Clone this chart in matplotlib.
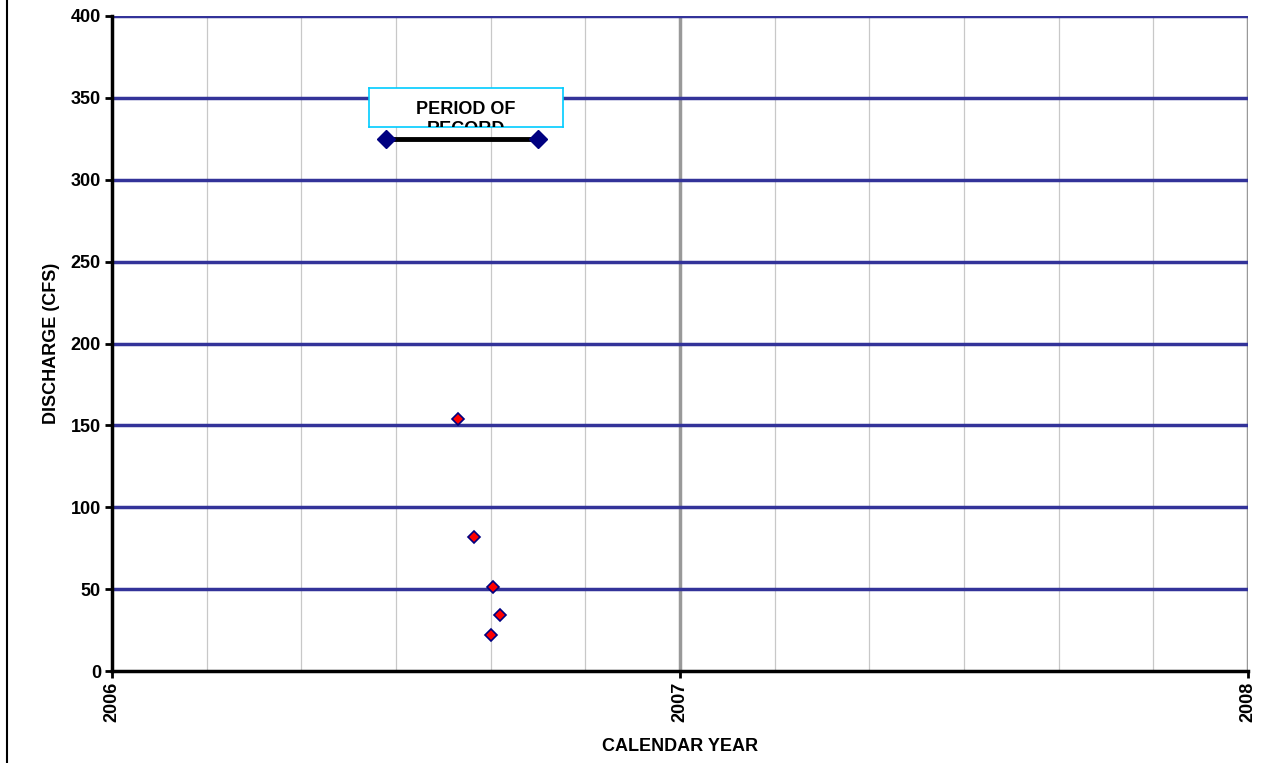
import matplotlib
matplotlib.use("Agg")
import matplotlib.pyplot as plt
import numpy as np

# Data (decimal years)
obs_year = [2006.610, 2006.638, 2006.670, 2006.683, 2006.667]
obs_cfs = [154, 82, 51, 34, 22]
por_year = [2006.483, 2006.750]
por_cfs = [325, 325]
year_ticks = [2006, 2007, 2008]
y_ticks = [0, 50, 100, 150, 200, 250, 300, 350, 400]

plt.rcParams['font.family'] = ['Liberation Sans', 'DejaVu Sans']
FS = 13
fig = plt.figure(figsize=(12.61, 7.63), dpi=100)
ax = fig.add_axes([112/1261, 1-671/763, (1248-112)/1261, (671-16)/763])

ax.set_xlim(2006, 2008)
ax.set_ylim(0, 400)

# minor vertical gridlines every 2 months
for m in np.arange(2006, 2008.0001, 1/6):
    if abs(m - round(m)) > 1e-6:
        ax.axvline(m, color='#c8c8c8', lw=0.9, zorder=0)
for yr in [2007, 2008]:
    ax.axvline(yr, color='#999999', lw=2.5, zorder=0.5)
for y in y_ticks[1:]:
    ax.axhline(y, color='#333399', lw=2.5, zorder=1)

ax.plot(por_year, por_cfs, color='black', lw=3.5, zorder=3)
ax.plot(por_year, por_cfs, ls='none', marker='D', ms=9, mfc='#000080', mec='#000080', zorder=4)
ax.plot(obs_year, obs_cfs, ls='none', marker='D', ms=6.5, mfc='#ff0000', mec='#000080', mew=1.2, zorder=4)

ax.set_xticks(year_ticks)
ax.set_xticklabels([str(y) for y in year_ticks], rotation=90, fontsize=FS, fontweight='bold')
ax.set_yticks(y_ticks)
ax.set_yticklabels([str(y) for y in y_ticks], fontsize=FS, fontweight='bold')
ax.tick_params(axis='both', direction='out', length=5, width=2, color='black', pad=3)

for s in ['top', 'right']:
    ax.spines[s].set_visible(False)
ax.spines['left'].set_linewidth(2.5)
ax.spines['bottom'].set_linewidth(2.5)

ax.set_xlabel('CALENDAR YEAR', fontsize=FS, fontweight='bold', labelpad=11)
ax.set_ylabel('DISCHARGE (CFS)', fontsize=FS, fontweight='bold', labelpad=8)

# Text box "PERIOD OF RECORD" (clipped)
bx0, by0, bx1, by1 = 369, 88, 563, 127
box_ax = fig.add_axes([bx0/1261, 1-by1/763, (bx1-bx0)/1261, (by1-by0)/763])
box_ax.set_xticks([]); box_ax.set_yticks([])
box_ax.set_facecolor('white')
for s in box_ax.spines.values():
    s.set_color('#00ccff'); s.set_linewidth(1.2)
h = by1 - by0
box_ax.text(0.5, (by1 - 110) / h, 'PERIOD OF', ha='center', va='center', fontsize=FS,
            fontweight='bold', transform=box_ax.transAxes, clip_on=True)
box_ax.text(0.5, (by1 - 130) / h, 'RECORD', ha='center', va='center', fontsize=FS,
            fontweight='bold', transform=box_ax.transAxes, clip_on=True)

# left figure border line
fig.add_artist(plt.Line2D([7/1261, 7/1261], [0, 1], color='black', lw=1.5, transform=fig.transFigure))

fig.savefig('out.png', dpi=100)
